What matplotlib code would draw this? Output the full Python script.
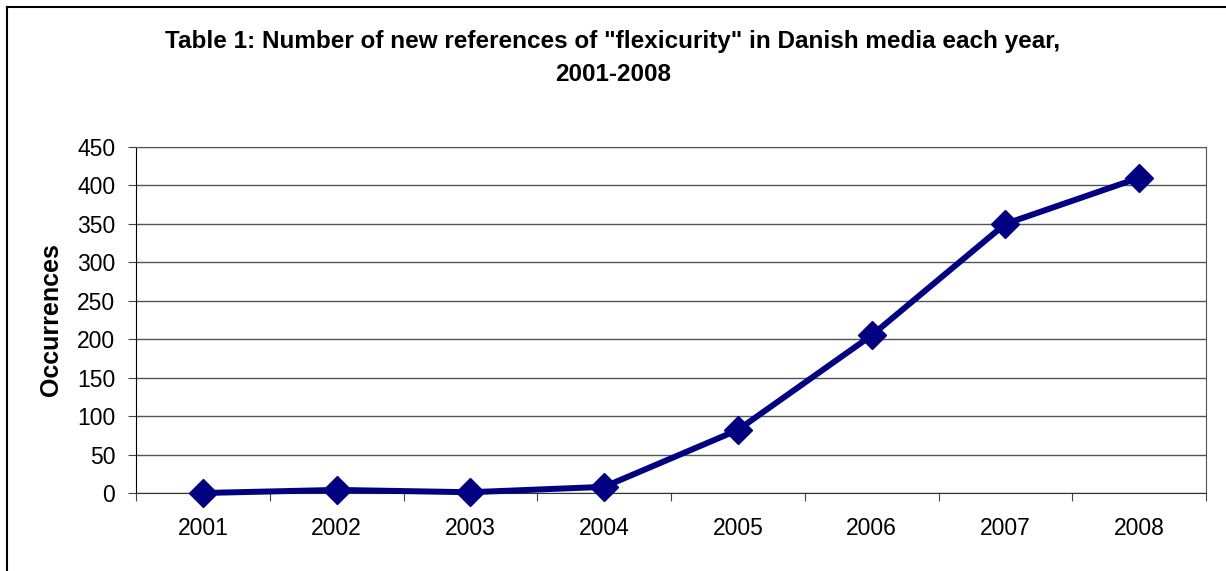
import matplotlib.pyplot as plt
from matplotlib.lines import Line2D

years = ["2001", "2002", "2003", "2004", "2005", "2006", "2007", "2008"]
occurrences = [0, 4, 1, 8, 82, 205, 350, 410]
y_ticks = [0, 50, 100, 150, 200, 250, 300, 350, 400, 450]

plt.rcParams["font.family"] = ["Liberation Sans", "DejaVu Sans"]

W, H = 1226, 571
fig = plt.figure(figsize=(W / 100, H / 100), dpi=100)
ax = fig.add_axes([136 / W, 1 - 493 / H, (1206 - 136) / W, (493 - 147) / H])

# Chart frame (only top and left edges are visible)
fig.add_artist(Line2D([7 / W, 1], [1 - 7 / H, 1 - 7 / H], color="black", lw=1.5))
fig.add_artist(Line2D([7 / W, 7 / W], [0, 1 - 7 / H], color="black", lw=1.5))

x = list(range(len(years)))
ax.plot(x, occurrences, color="#000080", lw=4.3, marker="D", markersize=14,
        solid_joinstyle="miter", zorder=3, clip_on=False)

ax.set_xlim(-0.5, len(years) - 0.5)
ax.set_ylim(0, 450)
ax.set_yticks(y_ticks)
ax.set_yticklabels([str(v) for v in y_ticks])
ax.set_xticks([i - 0.5 for i in range(len(years) + 1)])
ax.set_xticklabels([])
ax.set_xticks(x, minor=True)
ax.set_xticklabels(years, minor=True)
ax.tick_params(axis="x", which="minor", length=0, pad=17, labelsize=16.5)
ax.tick_params(axis="x", which="major", length=6, direction="out", color="#444444")
ax.tick_params(axis="y", length=6, direction="out", pad=9, labelsize=16.5, color="#444444")

ax.grid(axis="y", color="#555555", lw=1)
ax.set_axisbelow(True)
for side in ["top", "right"]:
    ax.spines[side].set_color("#555555")
ax.spines["left"].set_color("black")
ax.spines["bottom"].set_color("#333333")

ax.set_ylabel("Occurrences", fontsize=18, fontweight="bold", labelpad=10)
fig.text(0.5, 1 - 48 / H,
         'Table 1: Number of new references of "flexicurity" in Danish media each year,',
         ha="center", va="baseline", fontsize=17.5, fontweight="bold")
fig.text(0.5, 1 - 81 / H, "2001-2008", ha="center", va="baseline",
         fontsize=17.5, fontweight="bold")

fig.savefig("out.png", dpi=100)
